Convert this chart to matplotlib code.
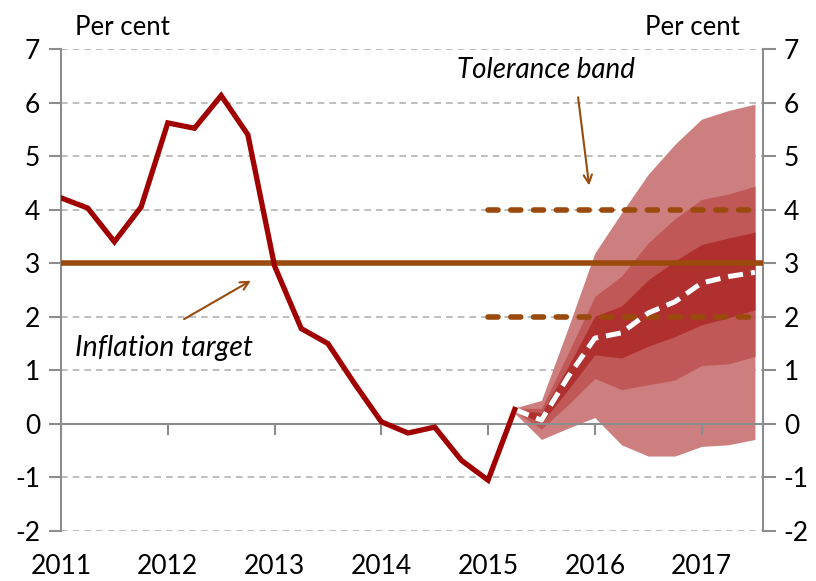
import matplotlib.pyplot as plt

plt.rcParams['font.family'] = ['Lato', 'DejaVu Sans']

# CPI inflation, quarterly (historical)
hist_x = [2011.0, 2011.25, 2011.5, 2011.75, 2012.0, 2012.25, 2012.5, 2012.75,
          2013.0, 2013.25, 2013.5, 2013.75, 2014.0, 2014.25, 2014.5, 2014.75,
          2015.0, 2015.25]
hist_y = [4.22, 4.03, 3.40, 4.05, 5.62, 5.52, 6.13, 5.40,
          2.95, 1.78, 1.50, 0.75, 0.04, -0.17, -0.06, -0.68,
          -1.05, 0.27]

# Forecast fan (quarterly)
fc_x = [2015.25, 2015.5, 2015.75, 2016.0, 2016.25, 2016.5, 2016.75, 2017.0, 2017.25, 2017.5]
outer_hi = [0.30, 0.44, 1.79, 3.19, 3.94, 4.66, 5.22, 5.69, 5.85, 5.97]
mid_hi = [0.29, 0.29, 1.32, 2.38, 2.76, 3.38, 3.83, 4.19, 4.29, 4.44]
inner_hi = [0.28, 0.20, 1.07, 2.01, 2.20, 2.69, 3.04, 3.35, 3.47, 3.58]
central = [0.27, 0.07, 0.88, 1.60, 1.70, 2.07, 2.28, 2.63, 2.75, 2.83]
inner_lo = [0.26, 0.01, 0.64, 1.29, 1.23, 1.45, 1.63, 1.85, 1.98, 2.13]
mid_lo = [0.24, -0.10, 0.36, 0.85, 0.64, 0.73, 0.82, 1.09, 1.12, 1.26]
outer_lo = [0.20, -0.29, -0.08, 0.12, -0.39, -0.60, -0.60, -0.42, -0.39, -0.29]

target = 3
band_lo, band_hi = 2, 4
band_x = [2015.0, 2017.5]

years = [2011, 2012, 2013, 2014, 2015, 2016, 2017]
yticks = [-2, -1, 0, 1, 2, 3, 4, 5, 6, 7]

brown = '#9a4a0c'
red = '#a00000'
grid_c = '#b3b3b3'
axis_c = '#8c8c8c'

fig = plt.figure(figsize=(8.16, 5.81), dpi=100)
ax = fig.add_axes([0.0748, 0.086, 0.935 - 0.0748, 0.8297])
ax.set_xlim(2011, 2017.575)
ax.set_ylim(-2, 7)

for v in yticks:
    if v != 0:
        ax.axhline(v, color=grid_c, lw=1.2, ls=(0, (4, 3)), zorder=0)

# fan
ax.fill_between(fc_x, outer_lo, outer_hi, color='#cd7f7f', lw=0, zorder=1)
ax.fill_between(fc_x, mid_lo, mid_hi, color='#c05858', lw=0, zorder=1)
ax.fill_between(fc_x, inner_lo, inner_hi, color='#b03030', lw=0, zorder=1)

ax.plot(fc_x, central, color='white', lw=3.6, ls=(0, (3, 1.6)), zorder=4)

# target and tolerance band
ax.axhline(target, color=brown, lw=4, zorder=3)
ax.plot(band_x, [band_hi, band_hi], color=brown, lw=4, ls=(0, (1.8, 2.3)),
        dash_capstyle='round', zorder=3)
ax.plot(band_x, [band_lo, band_lo], color=brown, lw=4, ls=(0, (1.8, 2.3)),
        dash_capstyle='round', zorder=3)

ax.plot(hist_x, hist_y, color=red, lw=3.8, zorder=5, solid_joinstyle='miter')

# axes styling
ax.spines['top'].set_visible(False)
ax.spines['bottom'].set_position(('data', 0))
for side in ['left', 'right', 'bottom']:
    ax.spines[side].set_color(axis_c)
    ax.spines[side].set_linewidth(1.5)

ax.set_yticks(yticks)
ax.set_yticklabels([str(v) for v in yticks])
ax.tick_params(axis='y', which='both', direction='out', length=9, width=1.5,
               color=axis_c, labelsize=19, left=True, right=True,
               labelleft=True, labelright=True, pad=6)
ax.set_xticks(years)
ax.set_xticklabels([str(y) for y in years])
ax.tick_params(axis='x', direction='out', length=8, width=1.5, color=axis_c,
               labelsize=19, pad=86)

ax.text(0.02, 1.044, 'Per cent', transform=ax.transAxes, fontsize=18.5,
        ha='left', va='center')
ax.text(0.967, 1.044, 'Per cent', transform=ax.transAxes, fontsize=18.5,
        ha='right', va='center')

ax.annotate('', xy=(2015.95, 4.4), xytext=(2015.84, 6.15),
            arrowprops=dict(arrowstyle='->,head_length=0.6,head_width=0.3',
                            color=brown, lw=1.5))
ax.text(2015.54, 6.61, 'Tolerance band', fontsize=20, style='italic',
        ha='center', va='center')

ax.annotate('', xy=(2012.8, 2.7), xytext=(2012.13, 1.93),
            arrowprops=dict(arrowstyle='->,head_length=0.6,head_width=0.3',
                            color=brown, lw=1.5))
ax.text(2011.13, 1.41, 'Inflation target', fontsize=20.5, style='italic',
        ha='left', va='center')

fig.savefig('out.png', dpi=100)
